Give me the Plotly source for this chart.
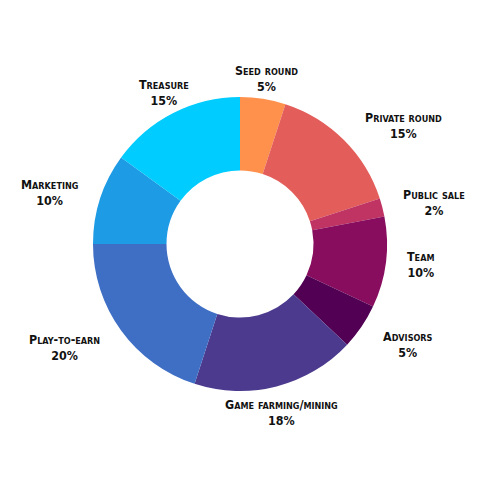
import math
import plotly.graph_objects as go

labels = ["Seed round", "Private round", "Public sale", "Team", "Advisors",
          "Game farming/mining", "Play-to-earn", "Marketing", "Treasure"]
values = [5, 15, 2, 10, 5, 18, 20, 10, 15]
colors = ["#FF914D", "#E35D5A", "#BF3462", "#880D5E", "#520053",
          "#4C3A8E", "#3E6FC5", "#1D9BE5", "#00CCFF"]

W = H = 500
CX, CY, R = 240, 244, 147

fig = go.Figure(go.Pie(
    labels=labels, values=values, hole=0.5, sort=False, direction="clockwise",
    rotation=0, marker=dict(colors=colors, line=dict(width=0)),
    textinfo="none", hoverinfo="label+percent",
    domain=dict(x=[(CX - R) / W, (CX + R) / W], y=[1 - (CY + R) / H, 1 - (CY - R) / H]),
    showlegend=False,
))

total = sum(values)
cum = 0
font = dict(family="Liberation Sans Narrow, DejaVu Sans Condensed, Arial Narrow, sans-serif",
            size=12.4, color="#111111", weight="bold", variant="small-caps")
for lab, v in zip(labels, values):
    mid = (cum + v / 2) / total * 2 * math.pi
    cum += v
    s, c = math.sin(mid), math.cos(mid)
    ex, ey = CX + R * s, CY - R * c
    if abs(s) > 0.5:
        xa = "left" if s > 0 else "right"
        px = ex + 19 * (1 if s > 0 else -1)
        if c > 0.5:
            ya, py = "bottom", ey + 3
        elif c < -0.5:
            ya, py = "top", ey
        else:
            ya, py = "middle", ey - 20 * c
    else:
        xa, px = "center", ex + 20 * s
        if c > 0:
            ya, py = "bottom", ey - 3
        else:
            ya, py = "top", ey + 9
    fig.add_annotation(x=px / W, y=1 - py / H, xref="paper", yref="paper",
                       text=f"{lab}<br>{v}%", showarrow=False,
                       xanchor=xa, yanchor=ya, align="center", font=font)

fig.update_layout(width=W, height=H, margin=dict(l=0, r=0, t=0, b=0),
                  paper_bgcolor="white", plot_bgcolor="white")
fig.write_html("out.html")
